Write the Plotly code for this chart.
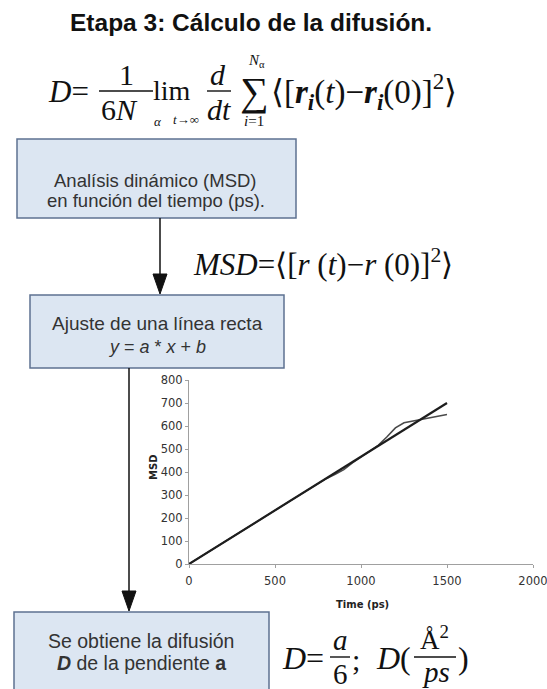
import plotly.graph_objects as go

W, H = 547, 689

# MSD curve (ps, Å^2) and straight-line fit
msd_t = [0, 100, 200, 300, 400, 500, 600, 700, 800, 850, 900, 950, 1000,
         1050, 1100, 1150, 1200, 1250, 1300, 1350, 1400, 1450, 1500]
msd_val = [0, 46, 93, 140, 187, 233, 280, 327, 372, 390, 410, 440, 466,
           492, 516, 552, 592, 614, 621, 628, 638, 645, 650]
fit_t = [0, 1500]
fit_val = [0, 700]

x_ticks = [0, 500, 1000, 1500, 2000]
y_ticks = [0, 100, 200, 300, 400, 500, 600, 700, 800]


def X(px):
    return px / W


def Y(py):
    return 1 - py / H


SERIF = "Liberation Serif"
SANS = "Liberation Sans"
BOX_FILL = "#dce6f2"
BOX_LINE = "#5d7191"

fig = go.Figure()
fig.add_trace(go.Scatter(x=msd_t, y=msd_val, mode="lines",
                         line=dict(color="#4a4a4a", width=1.6), hoverinfo="skip"))
fig.add_trace(go.Scatter(x=fit_t, y=fit_val, mode="lines",
                         line=dict(color="#1e1e1e", width=2.2), hoverinfo="skip"))

axis_common = dict(showgrid=False, zeroline=False, showline=True,
                   linecolor="#a0a0a0", linewidth=1, ticks="outside",
                   ticklen=3, tickcolor="#a0a0a0", ticklabeloverflow="allow",
                   automargin=False,
                   tickfont=dict(family="DejaVu Sans", size=11.5, color="#333"))
fig.update_layout(
    width=W, height=H, margin=dict(l=0, r=0, t=0, b=0),
    paper_bgcolor="white", plot_bgcolor="white", showlegend=False,
    xaxis=dict(domain=[X(189), X(533)], range=[0, 2000], tickvals=x_ticks,
               ticklabelstandoff=3, **axis_common),
    yaxis=dict(domain=[Y(564), Y(380)], range=[0, 800], tickvals=y_ticks,
               **axis_common),
)

shapes = []
annotations = []


def box(x0, y0, x1, y1):
    shapes.append(dict(type="rect", xref="paper", yref="paper",
                       x0=X(x0), x1=X(x1), y0=Y(y1), y1=Y(y0),
                       fillcolor=BOX_FILL, line=dict(color=BOX_LINE, width=1.5),
                       layer="below"))


def arrow(x, y0, y1):
    shapes.append(dict(type="line", xref="paper", yref="paper",
                       x0=X(x), x1=X(x), y0=Y(y0), y1=Y(y1 - 18),
                       line=dict(color="#111", width=1.5)))
    shapes.append(dict(type="path", xref="paper", yref="paper",
                       path=f"M {X(x-7)} {Y(y1-20)} L {X(x+7)} {Y(y1-20)} L {X(x)} {Y(y1)} Z",
                       fillcolor="#111", line=dict(color="#111", width=1)))


def hline(x0, x1, y, w=1.4):
    shapes.append(dict(type="line", xref="paper", yref="paper",
                       x0=X(x0), x1=X(x1), y0=Y(y), y1=Y(y),
                       line=dict(color="#111", width=w)))


def text(x, y, s, size, family=SERIF, anchor="center", color="#111", angle=0):
    annotations.append(dict(x=X(x), y=Y(y), xref="paper", yref="paper",
                            text=s, showarrow=False, xanchor=anchor,
                            yanchor="middle", textangle=angle,
                            font=dict(family=family, size=size, color=color)))


# Title
text(251, 23, "<b>Etapa 3: Cálculo de la difusión.</b>", 24.5, family=SANS)

# D = 1/(6 N_alpha) lim d/dt sum <[r_i(t) - r_i(0)]^2>
text(46, 92, "<i>D</i>=", 31, anchor="left")
text(126, 75, "1", 30)
hline(99, 153, 91)
text(99, 109, "6<i>N</i>", 30, anchor="left")
text(158, 121, "<i>α</i>", 13)
text(172, 90, "lim", 28)
text(186, 120, "<i>t</i>→∞", 13)
text(218, 74, "<i>d</i>", 30)
hline(207, 231, 91)
text(219, 109, "<i>dt</i>", 30)
text(254, 92, "∑", 40)
text(256, 61, "<i>N</i><sub>α</sub>", 15)
text(254, 121, "<i>i</i>=1", 15)
text(269, 92, "⟨[<b><i>r</i></b><sub><b><i>i</i></b></sub>(<i>t</i>)−<b><i>r</i></b>"
              "<sub><b><i>i</i></b></sub>(0)]<sup>2</sup>⟩", 33, anchor="left")

# Box 1
box(17, 139, 296, 218)
text(156, 181, "Analísis dinámico (MSD)", 18.5, family=SANS, color="#333")
text(156, 201, "en función del tiempo (ps).", 18.5, family=SANS, color="#333")
arrow(160, 218, 294)

# MSD definition
text(191, 262, "<i>MSD</i>=⟨[<i>r</i> (<i>t</i>)−<i>r</i> (0)]<sup>2</sup>⟩", 31,
     anchor="left")

# Box 2
box(30, 295, 284, 368)
text(157, 323, "Ajuste de una línea recta", 19, family=SANS, color="#333")
text(157, 347, "<i>y</i> = <i>a</i> * <i>x</i> + <i>b</i>", 18, family=SANS, color="#333")
arrow(129, 368, 611)

# Box 3
box(14, 612, 269, 700)
text(141, 641, "Se obtiene la difusión", 19.5, family=SANS, color="#333")
text(141, 663, "<b><i>D</i></b> de la pendiente <b>a</b>", 19.5, family=SANS, color="#333")

# D = a/6 ; D(Å^2/ps)
text(280, 658, "<i>D</i>=", 32, anchor="left")
text(340, 640, "<i>a</i>", 29)
hline(330, 350, 657)
text(340, 674, "6", 29)
text(350, 659, ";", 30, anchor="left")
text(374, 658, "<i>D</i>(", 32, anchor="left")
text(434, 638, "Å<sup>2</sup>", 27)
hline(414, 456, 657)
text(436, 672, "<i>ps</i>", 29)
text(456, 658, ")", 32, anchor="left")

# Axis titles of the inset chart
text(362, 604, "<b>Time (ps)</b>", 10, family="DejaVu Sans", color="#222")
text(153, 468, "<b>MSD</b>", 10, family="DejaVu Sans", color="#222", angle=-90)

fig.update_layout(shapes=shapes, annotations=annotations)
fig.write_html("out.html")
